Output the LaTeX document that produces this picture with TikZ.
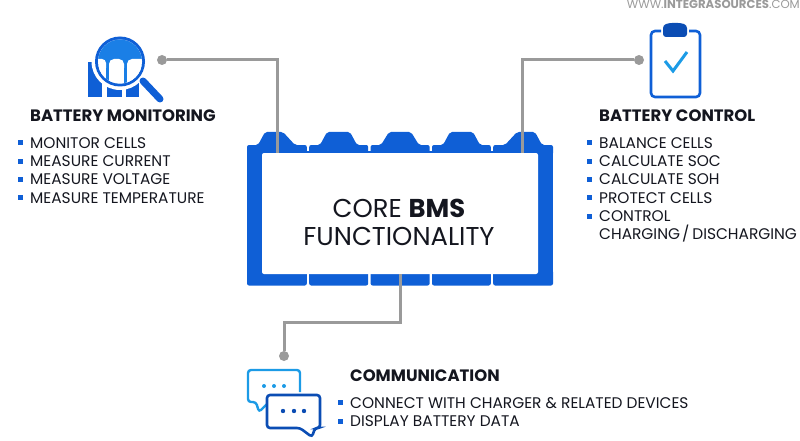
\documentclass[tikz,border=0pt]{standalone}
\usepackage{fontspec}
\setmainfont{Poppins}
\usetikzlibrary{positioning}
\definecolor{bmsblue}{HTML}{0F5FD6}
\definecolor{lensblue}{HTML}{1A7FE6}
\definecolor{darkblue}{HTML}{0B4DB4}
\definecolor{lightblue}{HTML}{1C9BE6}
\definecolor{wiregray}{HTML}{9A9A9A}
\definecolor{inkblack}{HTML}{14161F}
\tikzset{
    heading/.style={inner sep=0pt,anchor=west,text=inkblack,font=\fontsize{16.5}{18}\selectfont\bfseries},
    item/.style={inner sep=0pt,text=inkblack,text height=10.5pt,text depth=0pt,font=\fontsize{15.4}{18}\selectfont,label={[sqbullet]left:{}}},
    plainitem/.style={inner sep=0pt,text=inkblack,text height=10.5pt,text depth=0pt,font=\fontsize{15.4}{18}\selectfont},
    sqbullet/.style={rectangle,fill=bmsblue,inner sep=0pt,minimum size=5pt,label distance=6.5pt},
    wire/.style={draw=wiregray,line width=3pt},
    walldot/.style={circle,fill=wiregray,inner sep=0pt,minimum size=10pt},
    core/.style={rectangle,fill=white,rounded corners=2pt,minimum width=276pt,minimum height=121pt},
    coretext/.style={inner sep=0pt,align=center,text=inkblack,font=\fontsize{25.8}{27.5}\selectfont}
}
\begin{document}
\begin{tikzpicture}[x=1pt,y=-1pt]
    \useasboundingbox (0,0) rectangle (800,441);
    % battery
    \fill[bmsblue,rounded corners=2pt] (247,145) -- (258,145) -- (265,132) -- (283,132) -- (295,145) -- (306.8,145) -- (306.8,155) -- (247,155) -- cycle;
    \fill[bmsblue,rounded corners=2pt] (309.2,145) -- (320,145) -- (327,132) -- (350,132) -- (357,145) -- (368.2,145) -- (368.2,155) -- (309.2,155) -- cycle;
    \fill[bmsblue,rounded corners=2pt] (370.6,145) -- (381,145) -- (389,132) -- (411,132) -- (419,145) -- (429.6,145) -- (429.6,155) -- (370.6,155) -- cycle;
    \fill[bmsblue,rounded corners=2pt] (432,145) -- (443,145) -- (450,132) -- (473,132) -- (480,145) -- (490.8,145) -- (490.8,155) -- (432,155) -- cycle;
    \fill[bmsblue,rounded corners=2pt] (493.2,145) -- (505,145) -- (517,132) -- (535,132) -- (542,145) -- (553,145) -- (553,155) -- (493.2,155) -- cycle;
    \fill[bmsblue] (247,151) rectangle (553,274);
    \fill[bmsblue,rounded corners=2pt] (247,270) rectangle (306.8,285.5);
    \fill[bmsblue,rounded corners=2pt] (309.2,270) rectangle (368.2,285.5);
    \fill[bmsblue,rounded corners=2pt] (370.6,270) rectangle (429.6,285.5);
    \fill[bmsblue,rounded corners=2pt] (432,270) rectangle (490.8,285.5);
    \fill[bmsblue,rounded corners=2pt] (493.2,270) rectangle (553,285.5);
    \node[core] (core) at (400,213.5) {};
    \node[coretext] (core text) at (399,222.5) {CORE \textbf{BMS}\\FUNCTIONALITY};

    % wires
    \node[walldot] (monitor dot) at (162,60) {};
    \node[walldot] (control dot) at (639,60) {};
    \node[walldot] (comm dot) at (284,356) {};
    \coordinate (monitor port) at (277,153);
    \coordinate (control port) at (522,153);
    \coordinate (comm port) at (400,274);
    \coordinate (comm bend) at (400,322);
    \draw[wire] (monitor dot) -| (monitor port);
    \draw[wire] (control dot) -| (control port);
    \draw[wire] (comm port) -- (comm bend) -| (comm dot);

    % monitoring icon
    \fill[bmsblue] (88,62) rectangle (102,97);
    \fill[bmsblue] (107,80) rectangle (122,97);
    \fill[bmsblue] (126,80) rectangle (139,97);
    \fill[white] (120,61.5) circle[radius=28.5pt];
    \draw[bmsblue,line width=7pt,line cap=round] (143,81) -- (160,99);
    \fill[bmsblue] (120,61.5) circle[radius=25pt];
    \fill[white] (120,61.5) circle[radius=22pt];
    \begin{scope}
        \clip (120,61.5) circle[radius=22pt];
        \fill[lensblue] (96,38) rectangle (144,90);
        \fill[white,rounded corners=4pt] (94,59) rectangle (106,92);
        \fill[white,rounded corners=5pt] (109,59) rectangle (124,92);
        \fill[white,rounded corners=5pt] (127,59) rectangle (146,92);
        \fill[white] (94,68) rectangle (146,92);
        \fill[lensblue] (106,68) rectangle (109,92);
        \fill[lensblue] (124,68) rectangle (127,92);
    \end{scope}

    % control icon
    \draw[bmsblue,line width=2.6pt,rounded corners=4pt] (661,31) -- (651,31) -- (651,97) -- (700,97) -- (700,31) -- (689,31);
    \fill[darkblue,rounded corners=3pt] (663,25) -- (669,23) -- (681,23) -- (687,25) -- (687,37) -- (663,37) -- cycle;
    \draw[lightblue,line width=3pt] (665,61) -- (673,71) -- (687,52);

    % communication icon
    \draw[lightblue,line width=2.4pt,rounded corners=3pt] (300,392) -- (300,370) -- (248,370) -- (248,402) -- (256,402) -- (259,412) -- (268,403);
    \fill[lightblue] (264,386) circle[radius=2pt] (274,386) circle[radius=2pt] (284,386) circle[radius=2pt];
    \draw[darkblue,fill=white,line width=2.6pt,rounded corners=3pt] (267,395) -- (320,395) -- (320,428) -- (315,428) -- (312,437) -- (300,428) -- (267,428) -- cycle;
    \fill[darkblue] (283,411) circle[radius=2.2pt] (294,411) circle[radius=2.2pt] (304,411) circle[radius=2.2pt];

    % monitoring text
    \node[heading] (monitor head) at (30,116) {BATTERY MONITORING};
    \node[item,below right=15.3pt and 0pt of monitor head.south west] (monitor 1) {MONITOR CELLS};
    \node[item,below right=7.4pt and 0pt of monitor 1.south west] (monitor 2) {MEASURE CURRENT};
    \node[item,below right=7.4pt and 0pt of monitor 2.south west] (monitor 3) {MEASURE VOLTAGE};
    \node[item,below right=7.4pt and 0pt of monitor 3.south west] (monitor 4) {MEASURE TEMPERATURE};

    % control text
    \node[heading] (control head) at (599,116) {BATTERY CONTROL};
    \node[item,below right=15.3pt and 0pt of control head.south west] (control 1) {BALANCE CELLS};
    \node[item,below right=7.4pt and 0pt of control 1.south west] (control 2) {CALCULATE SOC};
    \node[item,below right=7.4pt and 0pt of control 2.south west] (control 3) {CALCULATE SOH};
    \node[item,below right=7.4pt and 0pt of control 3.south west] (control 4) {PROTECT CELLS};
    \node[item,below right=7.4pt and 0pt of control 4.south west] (control 5) {CONTROL};
    \node[plainitem,below right=7.4pt and 0pt of control 5.south west] (control 6) {CHARGING\kern2pt/\kern3pt DISCHARGING};

    % communication text
    \node[heading] (comm head) at (350,376) {COMMUNICATION};
    \node[item,below right=15.3pt and 0pt of comm head.south west] (comm 1) {CONNECT WITH CHARGER \& RELATED DEVICES};
    \node[item,below right=7.4pt and 0pt of comm 1.south west] (comm 2) {DISPLAY BATTERY DATA};

    % watermark
    \node[inner sep=0pt,anchor=east,text=wiregray,font=\fontsize{11.7}{12}\selectfont] (site) at (800,4) {WWW.\textbf{INTEGRASOURCES}.COM};
\end{tikzpicture}
\end{document}
